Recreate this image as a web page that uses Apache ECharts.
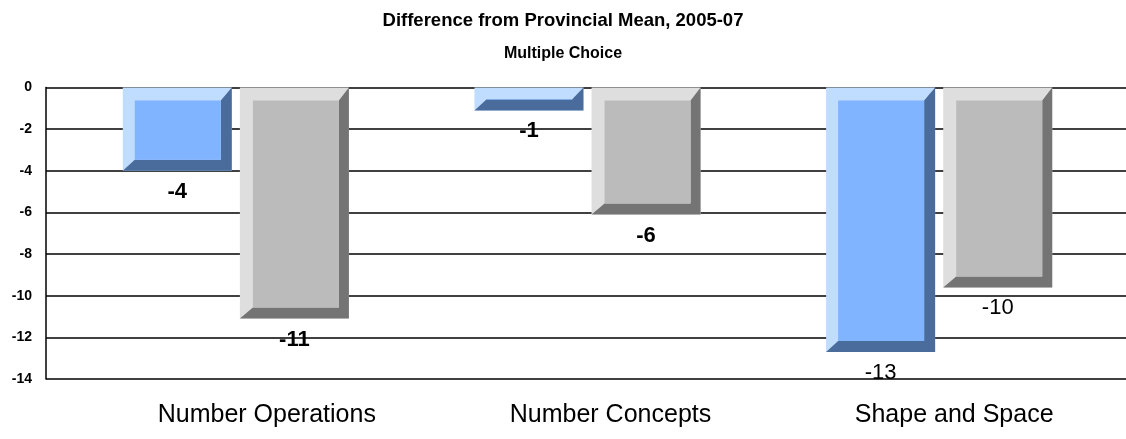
<!DOCTYPE html>
<html>
<head>
<meta charset="utf-8">
<title>Difference from Provincial Mean</title>
<script src="https://cdn.jsdelivr.net/npm/echarts@6/dist/echarts.min.js"></script>
<style>
    html, body { margin: 0; padding: 0; background: #fff; }
    #chart { width: 1126px; height: 439px; }
</style>
</head>
<body>
<div id="chart"></div>
<script>
// data
const categories = ['Number Operations', 'Number Concepts', 'Shape and Space'];
const blueValues = [-4.0, -1.1, -12.7];
const grayValues = [-11.1, -6.1, -9.6];
const yMin = -14;
const yMax = 0;
const yStep = 2;

const FONT = '"Liberation Sans", Arial, Helvetica, sans-serif';

const palettes = [
    { light: '#c0dcff', face: '#80b4ff', dark: '#4a6c9c' },
    { light: '#dedede', face: '#bbbbbb', dark: '#747474' }
];
// the last pair of value labels looks lighter in the original
const labelWeights = ['bold', 'bold', 'normal'];

// bar with a bevelled edge, placed from the axis scale
function bevelBar(side, colors) {
    return function (params, api) {
        const cat = api.value(0);
        const val = api.value(1);
        const base = api.coord([cat, 0]);
        const end = api.coord([cat, val]);
        const band = api.size([1, 0])[0];
        const w = band * 0.31;
        const gap = band * 0.023;
        const x0 = side === 0 ? base[0] - gap / 2 - w : base[0] + gap / 2;
        const x1 = x0 + w;
        const y0 = base[1];
        const y1 = end[1];
        const h = y1 - y0;
        const bt = Math.min(13, h / 2);
        const bb = Math.min(11, h / 2);
        const bl = side === 0 ? 12 : 13;
        const br = side === 0 ? 11 : 10;
        return {
            type: 'group',
            children: [
                { type: 'rect', shape: { x: x0, y: y0, width: w, height: h }, style: { fill: colors.light } },
                {
                    type: 'polygon',
                    shape: { points: [[x1, y0], [x1, y1], [x0, y1], [x0 + bl, y1 - bb], [x1 - br, y1 - bb], [x1 - br, y0 + bt]] },
                    style: { fill: colors.dark }
                },
                {
                    type: 'rect',
                    shape: { x: x0 + bl, y: y0 + bt, width: w - bl - br, height: Math.max(0, h - bt - bb) },
                    style: { fill: colors.face }
                },
                {
                    type: 'text',
                    x: (x0 + x1) / 2,
                    y: y1 + 21,
                    style: {
                        text: String(Math.round(val)),
                        fill: '#000',
                        fontSize: 22,
                        fontWeight: labelWeights[cat],
                        fontFamily: FONT,
                        align: 'center',
                        verticalAlign: 'middle'
                    }
                }
            ]
        };
    };
}

const chart = echarts.init(document.getElementById('chart'), null, { renderer: 'canvas' });

const gridTop = 87.5;
const gridBottom = 60;

chart.setOption({
    backgroundColor: '#fff',
    animation: false,
    title: [
        {
            text: 'Difference from Provincial Mean, 2005-07',
            left: 'center',
            top: 6,
            textStyle: { fontSize: 18.5, fontWeight: 'bold', color: '#000', fontFamily: FONT }
        },
        {
            text: 'Multiple Choice',
            left: 'center',
            top: 41,
            textStyle: { fontSize: 16, fontWeight: 'bold', color: '#000', fontFamily: FONT }
        }
    ],
    grid: [
        { left: 46, right: 0, top: gridTop, bottom: gridBottom },   // gridlines + y axis
        { left: 60, right: 11, top: gridTop, bottom: gridBottom },  // bars
        { left: 95, right: -9, top: gridTop, bottom: gridBottom }   // category labels
    ],
    xAxis: [
        { type: 'category', gridIndex: 0, data: categories, show: false },
        { type: 'category', gridIndex: 1, data: categories, show: false },
        {
            type: 'category',
            gridIndex: 2,
            data: categories,
            position: 'bottom',
            axisLine: { show: false },
            axisTick: { show: false },
            axisLabel: { color: '#000', fontSize: 25, fontFamily: FONT, margin: 24 }
        }
    ],
    yAxis: [
        {
            type: 'value',
            gridIndex: 0,
            min: yMin,
            max: yMax,
            interval: yStep,
            axisLine: { show: true, lineStyle: { color: '#000', width: 1.5 } },
            axisTick: { show: false },
            axisLabel: { color: '#000', fontSize: 14, fontWeight: 'bold', fontFamily: FONT, margin: 14 },
            splitLine: { show: true, lineStyle: { color: '#000', width: 1.5 } }
        },
        { type: 'value', gridIndex: 1, min: yMin, max: yMax, interval: yStep, show: false },
        { type: 'value', gridIndex: 2, min: yMin, max: yMax, interval: yStep, show: false }
    ],
    series: [
        {
            name: 'School',
            type: 'custom',
            xAxisIndex: 1,
            yAxisIndex: 1,
            renderItem: bevelBar(0, palettes[0]),
            encode: { x: 0, y: 1 },
            data: blueValues.map((v, i) => [i, v]),
            clip: false
        },
        {
            name: 'Jurisdiction',
            type: 'custom',
            xAxisIndex: 1,
            yAxisIndex: 1,
            renderItem: bevelBar(1, palettes[1]),
            encode: { x: 0, y: 1 },
            data: grayValues.map((v, i) => [i, v]),
            clip: false
        }
    ]
});
</script>
</body>
</html>
